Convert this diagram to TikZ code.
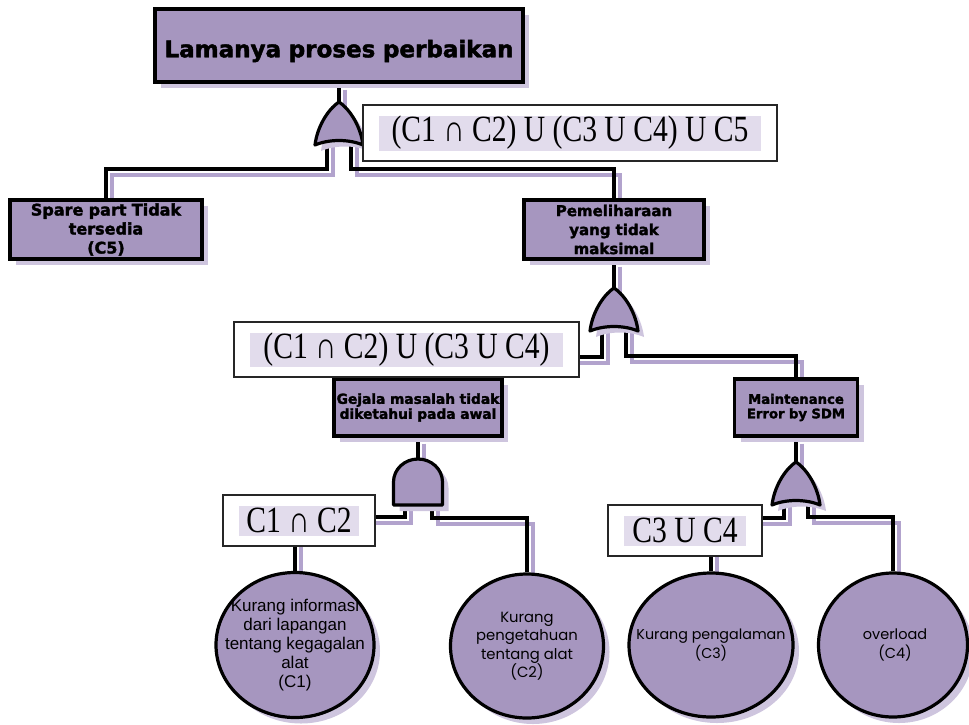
\documentclass[tikz,border=0pt]{standalone}
\usepackage{fontspec}
\usetikzlibrary{calc,shapes.geometric,shadows}
\newfontfamily\boxfont{DejaVu Sans}[UprightFont={* Bold}, FakeBold=2]
\newfontfamily\setfont{Liberation Serif}[FakeStretch=0.8]
\newfontfamily\circfont{Liberation Sans}
\newfontfamily\roundfont{Poppins}

\definecolor{evfill}{RGB}{166,150,191}
\definecolor{evshade}{RGB}{206,197,222}
\definecolor{wireshade}{RGB}{178,163,205}
\definecolor{sethl}{RGB}{226,220,236}

\pgfdeclarelayer{background}
\pgfsetlayers{background,main}

\begin{document}
\begin{tikzpicture}[x=1pt,y=-1pt,
  ftwire/.style={line width=3.4pt, line join=miter,
    preaction={draw=wireshade, line width=3.4pt, transform canvas={shift={(6pt,-6pt)}}}},
  ftshadow/.style={drop shadow={shadow xshift=6pt, shadow yshift=-6pt, fill=evshade, opacity=1}},
  ftevent/.style={draw, line width=3.2pt, fill=evfill, ftshadow, inner sep=0pt, align=center},
  ftbasic/.style={ellipse, draw, line width=3.2pt, fill=evfill, ftshadow, inner sep=0pt},
  ftgate/.style={draw, line width=3.2pt, fill=evfill, line join=round, ftshadow},
  ftset/.style={draw=black!85, line width=1.5pt, fill=white, inner sep=0pt,
    font=\setfont\fontsize{37}{40}\selectfont,
    path picture={\fill[sethl] ($(path picture bounding box.north west)+(16,10.5)$)
      rectangle ($(path picture bounding box.south east)+(-16,-10.5)$);}},
  orgate/.pic={
    \path[ftgate] (0,0) .. controls (12,8) and (22,26) .. (24,43)
      .. controls (10,37) and (-10,37) .. (-24,43)
      .. controls (-22,26) and (-12,8) .. (0,0) -- cycle;
    \coordinate (-in) at (0,0);
    \coordinate (-l) at (-12,36);
    \coordinate (-r) at (12,36);},
  andgate/.pic={
    \path[ftgate] (-24.5,46) -- (-24.5,23)
      arc[start angle=180, end angle=360, x radius=24.5, y radius=23]
      -- (24.5,46) -- cycle;
    \coordinate (-in) at (0,0);
    \coordinate (-l) at (-13,40);
    \coordinate (-r) at (14,40);},
]
\useasboundingbox (0,0) rectangle (969,724);

% events
\node[ftevent, text width=368pt, minimum height=73pt, text height=29pt, text depth=5.5pt,
  font=\boxfont\fontsize{23}{28}\selectfont] (top) at (339,45.5)
  {Lamanya proses perbaikan};
\node[ftevent, text width=192pt, minimum height=59pt,
  font=\boxfont\fontsize{16}{19}\selectfont] (spare) at (106,229.5)
  {Spare part Tidak\\tersedia\\(C5)};
\node[ftevent, text width=180pt, minimum height=59pt,
  font=\boxfont\fontsize{15}{19}\selectfont] (peme) at (614,229.5)
  {Pemeliharaan\\yang tidak\\maksimal};
\node[ftevent, text width=168pt, minimum height=57pt,
  font=\boxfont\fontsize{13.8}{15}\selectfont] (gejala) at (418,407.5)
  {Gejala masalah tidak\\diketahui pada awal};
\node[ftevent, text width=123pt, minimum height=57pt,
  font=\boxfont\fontsize{13.2}{14.5}\selectfont] (maint) at (796,407.5)
  {Maintenance\\Error by SDM};

% gates
\pic (g1) at (339,102) {orgate};
\pic (g2) at (614,288) {orgate};
\pic (g3) at (796,462) {orgate};
\pic (g4) at (418,459) {andgate};

% basic events
\node[ftbasic, minimum width=158pt, minimum height=145pt] (c1) at (295,645) {};
\node[ftbasic, minimum width=153pt, minimum height=144pt] (c2) at (527,646) {};
\node[ftbasic, minimum width=164pt, minimum height=144pt] (c3) at (711,645) {};
\node[ftbasic, minimum width=149pt, minimum height=144pt] (c4) at (893,645) {};
\node[align=center, font=\circfont\fontsize{17}{19}\selectfont] (c1t) at (c1)
  {Kurang informasi\\dari lapangan\\tentang kegagalan\\alat\\(C1)};
\node[align=center, font=\roundfont\fontsize{14.8}{18.5}\selectfont] (c2t) at (c2)
  {Kurang\\pengetahuan\\tentang alat\\(C2)};
\node[align=center, font=\roundfont\fontsize{14.3}{19}\selectfont] (c3t) at (c3)
  {Kurang pengalaman\\(C3)};
\node[align=center, font=\roundfont\fontsize{14.5}{19}\selectfont] (c4t) at ($(c4)+(2,0)$)
  {overload\\(C4)};

% connectors, drawn beneath the symbols
\begin{pgfonlayer}{background}
  \draw[ftwire] (top.south) -- (g1-in);
  \draw[ftwire] (g1-l) -- ++(0,31) -| (spare.north);
  \draw[ftwire] (g1-r) -- ++(0,31) -| (peme.north);
  \draw[ftwire] (peme.south) -- (g2-in);
  \draw[ftwire] (g2-l) -- ++(0,33) -| (gejala.north);
  \draw[ftwire] (g2-r) -- ++(0,32) -| (maint.north);
  \draw[ftwire] (gejala.south) -- (g4-in);
  \draw[ftwire] (g4-l) -- ++(0,18) -| (c1.north);
  \draw[ftwire] (g4-r) -- ++(0,19) -| (c2.north);
  \draw[ftwire] (maint.south) -- (g3-in);
  \draw[ftwire] (g3-l) -- ++(0,20) -| (c3.north);
  \draw[ftwire] (g3-r) -- ++(0,19) -| (c4.north);
\end{pgfonlayer}

% cut-set labels
\node[ftset, minimum width=414pt, minimum height=56pt] (s1) at (570,133)
  {(C1 ∩ C2) U (C3 U C4) U C5};
\node[ftset, minimum width=345pt, minimum height=55pt] (s2) at (406.5,349.5)
  {(C1 ∩ C2) U (C3 U C4)};
\node[ftset, minimum width=152pt, minimum height=51pt] (s3) at (299,520.5)
  {C1 ∩ C2};
\node[ftset, minimum width=154pt, minimum height=51pt] (s4) at (685,530.5)
  {C3 U C4};
\end{tikzpicture}
\end{document}
